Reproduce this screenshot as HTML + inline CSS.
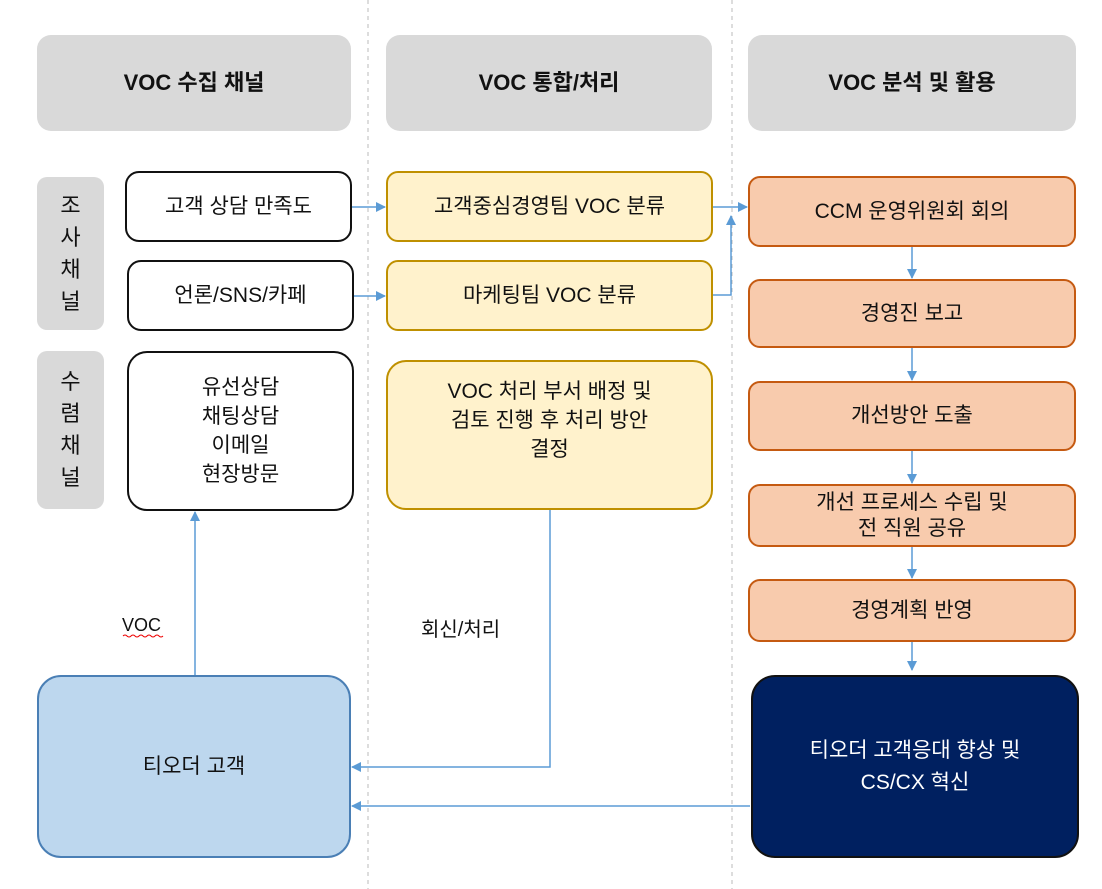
<!DOCTYPE html>
<html><head><meta charset="utf-8"><style>
body{margin:0;width:1102px;height:889px;background:#fff;position:relative;overflow:hidden;font-family:"Liberation Sans","Noto Sans CJK KR",sans-serif;color:#111}
.b{position:absolute;box-sizing:border-box;display:flex;align-items:center;justify-content:center;text-align:center;font-size:21px;line-height:26px}
.h{background:#d9d9d9;border-radius:14px;font-weight:bold;font-size:22px}
.g{background:#d9d9d9;border-radius:10px;font-size:22px;line-height:32px}
.w{border:2px solid #111;border-radius:14px;background:#fff}
.y{border:2px solid #bf9000;border-radius:12px;background:#fff2cc}
.o{border:2px solid #c55a11;border-radius:12px;background:#f8cbad}
.t{position:absolute;font-size:20px}
svg{position:absolute;left:0;top:0}
</style></head><body>
<svg width="1102" height="889">
<defs><marker id="a" markerWidth="10" markerHeight="10" refX="9" refY="5" orient="auto" markerUnits="userSpaceOnUse"><path d="M0,0L10,5L0,10z" fill="#5b9bd5"/></marker></defs>
<line x1="368" y1="0" x2="368" y2="889" stroke="#bbb" stroke-dasharray="4,4"/>
<line x1="732" y1="0" x2="732" y2="889" stroke="#bbb" stroke-dasharray="4,4"/>
<g stroke="#5b9bd5" stroke-width="1.5" fill="none">
<line x1="352" y1="207" x2="385" y2="207" marker-end="url(#a)"/>
<line x1="354" y1="296" x2="385" y2="296" marker-end="url(#a)"/>
<line x1="713" y1="207" x2="747" y2="207" marker-end="url(#a)"/>
<polyline points="713,295 731,295 731,216" marker-end="url(#a)"/>
<line x1="912" y1="247" x2="912" y2="278" marker-end="url(#a)"/>
<line x1="912" y1="348" x2="912" y2="380" marker-end="url(#a)"/>
<line x1="912" y1="451" x2="912" y2="483" marker-end="url(#a)"/>
<line x1="912" y1="547" x2="912" y2="578" marker-end="url(#a)"/>
<line x1="912" y1="642" x2="912" y2="670" marker-end="url(#a)"/>
<line x1="195" y1="675" x2="195" y2="512" marker-end="url(#a)"/>
<polyline points="550,510 550,767 352,767" marker-end="url(#a)"/>
<line x1="750" y1="806" x2="352" y2="806" marker-end="url(#a)"/>
</g>
<path d="M123,636 q2,-2 4,0 t4,0 t4,0 t4,0 t4,0 t4,0 t4,0 t4,0 t4,0 t4,0" stroke="#e00" fill="none" stroke-width="1"/>
</svg>
<div class="b h" style="left:37px;top:35px;width:314px;height:96px">VOC 수집 채널</div>
<div class="b h" style="left:386px;top:35px;width:326px;height:96px">VOC 통합/처리</div>
<div class="b h" style="left:748px;top:35px;width:328px;height:96px">VOC 분석 및 활용</div>
<div class="b g" style="left:37px;top:177px;width:67px;height:153px">조<br>사<br>채<br>널</div>
<div class="b g" style="left:37px;top:351px;width:67px;height:158px">수<br>렴<br>채<br>널</div>
<div class="b w" style="left:125px;top:171px;width:227px;height:71px">고객 상담 만족도</div>
<div class="b w" style="left:127px;top:260px;width:227px;height:71px">언론/SNS/카페</div>
<div class="b w" style="left:127px;top:351px;width:227px;height:160px;border-radius:20px;line-height:29px">유선상담<br>채팅상담<br>이메일<br>현장방문</div>
<div class="b y" style="left:386px;top:171px;width:327px;height:71px">고객중심경영팀 VOC 분류</div>
<div class="b y" style="left:386px;top:260px;width:327px;height:71px">마케팅팀 VOC 분류</div>
<div class="b y" style="left:386px;top:360px;width:327px;height:150px;border-radius:20px;padding-bottom:30px;line-height:29px">VOC 처리 부서 배정 및<br>검토 진행 후 처리 방안<br>결정</div>
<div class="b o" style="left:748px;top:176px;width:328px;height:71px">CCM 운영위원회 회의</div>
<div class="b o" style="left:748px;top:279px;width:328px;height:69px">경영진 보고</div>
<div class="b o" style="left:748px;top:381px;width:328px;height:70px">개선방안 도출</div>
<div class="b o" style="left:748px;top:484px;width:328px;height:63px">개선 프로세스 수립 및<br>전 직원 공유</div>
<div class="b o" style="left:748px;top:579px;width:328px;height:63px">경영계획 반영</div>
<div class="b" style="left:751px;top:675px;width:328px;height:183px;background:#002060;color:#fff;border-radius:24px;border:2px solid #111;line-height:32px">티오더 고객응대 향상 및<br>CS/CX 혁신</div>
<div class="b" style="left:37px;top:675px;width:314px;height:183px;background:#bdd7ee;border:2px solid #4a7fb5;border-radius:24px">티오더 고객</div>
<div class="t" style="left:122px;top:615px;font-size:18px">VOC</div>
<div class="t" style="left:421px;top:613px">회신/처리</div>
</body></html>
